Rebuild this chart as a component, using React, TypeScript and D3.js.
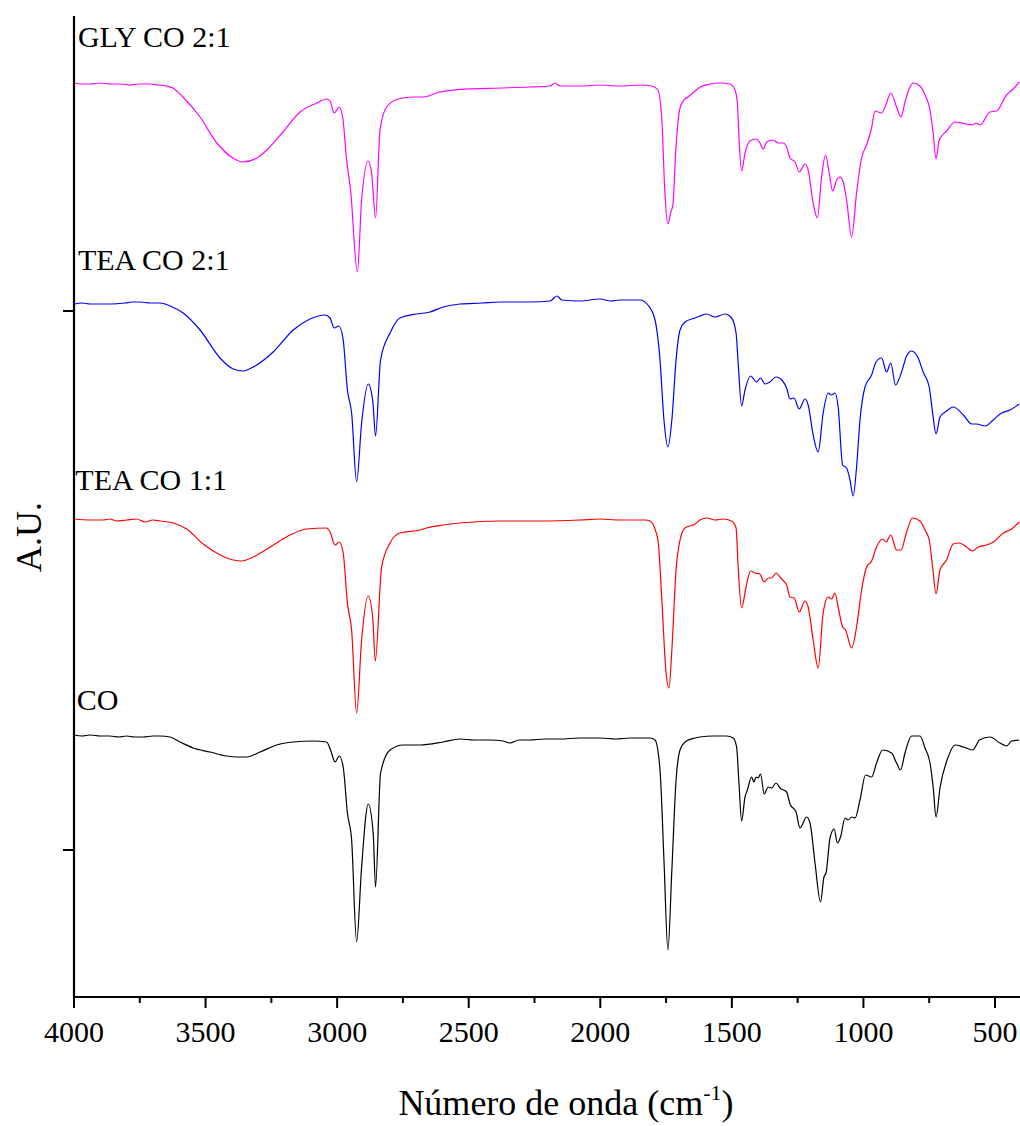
import React from "react";
import * as d3 from "d3";

// Wavenumber (cm-1) and absorbance-like values in arbitrary units (A.U.), offset stacked.
const glyCo21: [number, number][] = [
  [4000, 913], [3970, 912], [3939, 912], [3900, 913], [3863, 912], [3825, 912], [3787, 911], [3750, 912], [3711, 912], [3680, 911],
  [3647, 910], [3624, 908], [3586, 899], [3521, 879], [3457, 853], [3396, 838], [3358, 834], [3305, 838], [3267, 846], [3206, 864],
  [3141, 884], [3077, 893], [3039, 897], [3027, 895], [3011, 883], [2992, 889], [2979, 879], [2964, 836], [2949, 806], [2923, 724],
  [2907, 796], [2882, 835], [2869, 823], [2854, 778], [2837, 866], [2812, 889], [2768, 897], [2711, 899], [2673, 899], [2609, 904],
  [2508, 907], [2381, 908], [2267, 909], [2191, 910], [2172, 913], [2153, 910], [2080, 910], [2001, 911], [1925, 910], [1849, 911],
  [1804, 910], [1781, 906], [1766, 876], [1755, 806], [1743, 772], [1732, 784], [1724, 791], [1713, 846], [1697, 888], [1682, 896],
  [1667, 899], [1644, 904], [1621, 909], [1583, 912], [1545, 913], [1507, 912], [1488, 906], [1479, 893], [1472, 853], [1463, 825],
  [1450, 843], [1431, 855], [1408, 857], [1393, 853], [1381, 847], [1368, 854], [1343, 856], [1324, 853], [1305, 853], [1292, 849],
  [1279, 838], [1260, 834], [1244, 824], [1222, 832], [1210, 826], [1191, 793], [1175, 778], [1159, 819], [1144, 841], [1130, 823],
  [1117, 805], [1102, 816], [1089, 819], [1077, 814], [1064, 796], [1045, 759], [1026, 803], [1007, 838], [988, 851], [969, 868],
  [956, 885], [931, 883], [918, 889], [896, 903], [874, 889], [857, 879], [842, 894], [823, 909], [810, 913], [785, 910],
  [766, 901], [747, 886], [735, 863], [724, 837], [712, 856], [684, 865], [652, 874], [608, 872], [585, 871], [572, 873],
  [557, 871], [519, 884], [494, 885], [456, 901], [431, 907], [408, 914],
];

const teaCo21: [number, number][] = [
  [4000, 692], [3970, 693], [3939, 692], [3900, 692], [3863, 692], [3806, 693], [3780, 694], [3749, 694], [3710, 693], [3673, 693],
  [3635, 690], [3585, 683], [3521, 666], [3445, 638], [3395, 627], [3357, 625], [3319, 629], [3243, 644], [3167, 666], [3103, 677],
  [3046, 681], [3027, 678], [3011, 668], [2993, 670], [2977, 656], [2961, 606], [2945, 583], [2926, 514], [2907, 573], [2882, 612],
  [2865, 596], [2854, 560], [2835, 636], [2799, 663], [2761, 678], [2698, 682], [2647, 684], [2597, 689], [2533, 692], [2450, 693],
  [2381, 694], [2267, 694], [2191, 695], [2165, 700], [2146, 696], [2077, 695], [2001, 697], [1960, 695], [1925, 696], [1849, 696],
  [1819, 691], [1792, 676], [1773, 636], [1758, 576], [1743, 549], [1728, 576], [1712, 636], [1697, 666], [1678, 674], [1640, 678],
  [1621, 680], [1596, 682], [1564, 679], [1526, 682], [1501, 678], [1484, 663], [1476, 633], [1463, 590], [1450, 606], [1429, 620],
  [1406, 614], [1391, 618], [1374, 612], [1355, 614], [1332, 619], [1307, 615], [1292, 608], [1279, 597], [1264, 598], [1244, 587],
  [1222, 597], [1210, 591], [1191, 561], [1172, 544], [1153, 583], [1134, 603], [1121, 601], [1108, 603], [1096, 589], [1079, 531],
  [1064, 528], [1051, 516], [1039, 500], [1026, 529], [1013, 576], [994, 609], [969, 621], [952, 634], [931, 638], [912, 624],
  [896, 633], [878, 611], [855, 624], [836, 640], [817, 645], [792, 638], [773, 624], [750, 609], [737, 583], [724, 562],
  [709, 579], [684, 585], [659, 589], [620, 581], [589, 572], [570, 572], [538, 570], [507, 576], [475, 583], [443, 586],
  [408, 592],
];

const teaCo11: [number, number][] = [
  [4000, 477], [3939, 476], [3889, 476], [3863, 477], [3838, 475], [3800, 476], [3762, 477], [3730, 474], [3700, 476], [3673, 475],
  [3623, 473], [3572, 467], [3509, 452], [3458, 443], [3395, 436], [3363, 435], [3319, 439], [3255, 449], [3179, 461], [3116, 467],
  [3040, 468], [3027, 464], [3008, 451], [2992, 454], [2977, 443], [2961, 393], [2945, 366], [2926, 283], [2907, 356], [2882, 400],
  [2865, 379], [2855, 335], [2831, 429], [2799, 453], [2761, 463], [2685, 466], [2660, 468], [2597, 471], [2533, 473], [2381, 475],
  [2229, 475], [2077, 476], [2001, 477], [1925, 476], [1830, 476], [1811, 475], [1781, 456], [1766, 396], [1751, 326], [1739, 308],
  [1728, 346], [1712, 426], [1697, 456], [1678, 468], [1640, 472], [1621, 476], [1596, 478], [1564, 476], [1533, 477], [1501, 475],
  [1484, 468], [1476, 429], [1463, 388], [1446, 409], [1429, 425], [1412, 423], [1393, 422], [1378, 414], [1361, 418], [1349, 418],
  [1332, 423], [1311, 417], [1292, 411], [1279, 399], [1263, 398], [1244, 384], [1222, 395], [1210, 389], [1191, 356], [1172, 328],
  [1153, 383], [1134, 399], [1121, 397], [1108, 403], [1096, 389], [1079, 369], [1068, 366], [1045, 348], [1026, 369], [1007, 406],
  [988, 429], [969, 435], [950, 449], [927, 457], [914, 454], [896, 461], [874, 446], [857, 446], [836, 464], [813, 478],
  [785, 475], [766, 466], [750, 456], [737, 429], [724, 402], [709, 426], [684, 436], [659, 452], [636, 453], [608, 449],
  [585, 445], [564, 449], [532, 451], [506, 454], [468, 463], [437, 467], [408, 474],
];

const co: [number, number][] = [
  [4000, 261], [3970, 260], [3939, 261], [3900, 260], [3863, 260], [3830, 259], [3800, 260], [3770, 259], [3737, 259], [3700, 260],
  [3673, 260], [3635, 259], [3597, 254], [3547, 248], [3483, 244], [3420, 240], [3382, 239], [3344, 239], [3293, 244], [3230, 251],
  [3167, 254], [3091, 255], [3040, 254], [3025, 246], [3008, 234], [2992, 240], [2977, 229], [2961, 183], [2945, 156], [2926, 54],
  [2907, 129], [2882, 192], [2863, 163], [2854, 109], [2835, 223], [2799, 246], [2749, 251], [2685, 251], [2597, 254], [2533, 257],
  [2480, 256], [2419, 256], [2370, 255], [2343, 253], [2310, 256], [2267, 256], [2210, 257], [2153, 257], [2080, 258], [2001, 258],
  [1940, 257], [1887, 258], [1811, 258], [1792, 256], [1773, 226], [1758, 136], [1743, 46], [1728, 126], [1712, 216], [1697, 246],
  [1678, 254], [1640, 258], [1621, 259], [1571, 260], [1520, 260], [1495, 258], [1482, 249], [1473, 213], [1463, 175], [1450, 199],
  [1441, 206], [1425, 219], [1416, 214], [1408, 219], [1400, 218], [1391, 222], [1377, 202], [1362, 209], [1349, 208], [1332, 213],
  [1317, 208], [1292, 204], [1279, 192], [1256, 184], [1241, 168], [1216, 179], [1203, 173], [1184, 133], [1163, 94], [1150, 119],
  [1142, 123], [1127, 158], [1111, 167], [1099, 153], [1087, 159], [1070, 178], [1058, 176], [1045, 179], [1032, 178], [1013, 196],
  [992, 221], [969, 219], [950, 233], [927, 246], [893, 243], [874, 233], [859, 226], [842, 243], [817, 260], [785, 260],
  [766, 248], [747, 233], [735, 209], [724, 179], [709, 208], [678, 239], [652, 251], [620, 249], [585, 246], [559, 256],
  [519, 259], [481, 253], [456, 250], [437, 255], [408, 256],
];

const seriesData = [glyCo21, teaCo21, teaCo11, co];
const seriesNames = ["GLY CO 2:1", "TEA CO 2:1", "TEA CO 1:1", "CO"];
const seriesColors = ["#FF00FF", "#0000FF", "#FF0000", "#000000"];
// label anchor: [wavenumber, A.U.]
const labelAnchors: [number, number][] = [[3985, 949], [3985, 726], [3995, 506], [3990, 286]];

const xMajorTicks = [4000, 3500, 3000, 2500, 2000, 1500, 1000, 500];
const xMinorTicks = [3750, 3250, 2750, 2250, 1750, 1250, 750];
const yTicks = [146, 685];
const xDomain: [number, number] = [4000, 400];
const yDomain: [number, number] = [0, 980];

const W = 1020;
const H = 1126;
const FONT = "'Liberation Serif', 'Times New Roman', serif";

export default function App() {
  const x = d3.scaleLinear().domain(xDomain).range([74, 74 + 3600 * 0.26314]);
  const y = d3.scaleLinear().domain(yDomain).range([996, 16]);
  const line = d3
    .line<[number, number]>()
    .x((d) => x(d[0]))
    .y((d) => y(d[1]))
    .curve(d3.curveMonotoneX);

  const axisY = y(0) + 1;
  const x0 = x(4000);

  return (
    <svg
      width={W}
      height={H}
      style={{ position: "absolute", left: 0, top: 0, background: "#fff" }}
      fontFamily={FONT}
    >
      <rect x={0} y={0} width={W} height={H} fill="#fff" />
      {seriesData.map((s, i) => (
        <path key={i} d={line(s) || ""} fill="none" stroke={seriesColors[i]} strokeWidth={1.2} />
      ))}
      {seriesNames.map((n, i) => (
        <text key={n} x={x(labelAnchors[i][0])} y={y(labelAnchors[i][1])} fontSize={30} fill="#000" fontFamily={FONT}>
          {n}
        </text>
      ))}
      {/* axes */}
      <line x1={x0} x2={x0} y1={y(980)} y2={axisY + 1} stroke="#000" strokeWidth={2.2} />
      <line x1={x0 - 1} x2={W} y1={axisY} y2={axisY} stroke="#000" strokeWidth={2.2} />
      {yTicks.map((t) => (
        <line key={t} x1={x0 - 11} x2={x0} y1={y(t)} y2={y(t)} stroke="#000" strokeWidth={2} />
      ))}
      {xMajorTicks.map((t) => (
        <g key={t}>
          <line x1={x(t)} x2={x(t)} y1={axisY} y2={axisY + 11} stroke="#000" strokeWidth={2} />
          <text x={x(t)} y={axisY + 45} fontSize={30} textAnchor="middle" fill="#000" fontFamily={FONT}>
            {t}
          </text>
        </g>
      ))}
      {xMinorTicks.map((t) => (
        <line key={t} x1={x(t)} x2={x(t)} y1={axisY} y2={axisY + 6} stroke="#000" strokeWidth={2} />
      ))}
      <text x={566} y={1115} fontSize={36} textAnchor="middle" fill="#000" fontFamily={FONT}>
        Número de onda (cm
        <tspan fontSize={22} dy={-15}>-1</tspan>
        <tspan dy={15}>)</tspan>
      </text>
      <text transform="translate(41,537) rotate(-90)" fontSize={36} textAnchor="middle" fill="#000" fontFamily={FONT}>
        A.U.
      </text>
    </svg>
  );
}
